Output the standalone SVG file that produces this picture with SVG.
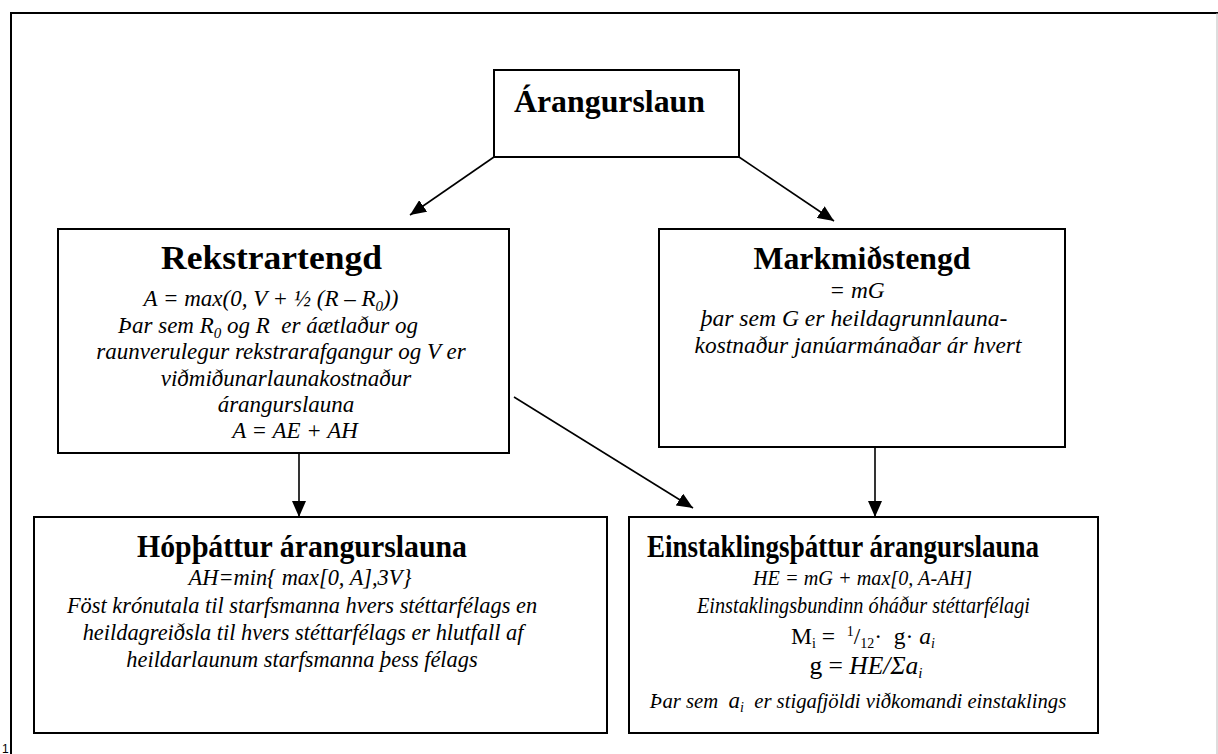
<svg xmlns="http://www.w3.org/2000/svg" width="1218" height="754" viewBox="0 0 1218 754">
<style>
.box{fill:#fff;stroke:#000;stroke-width:2}
.t{font-family:"Liberation Serif","Times New Roman",serif;font-weight:bold;text-anchor:middle;fill:#000}
.b{font-family:"Liberation Serif","Times New Roman",serif;font-style:italic;text-anchor:middle;fill:#000;white-space:pre}
.u{font-style:normal}
.con{stroke:#000;stroke-width:1.6;fill:none}
</style>
<defs>
<marker id="ah" markerUnits="userSpaceOnUse" markerWidth="18" markerHeight="14" refX="16" refY="7" orient="auto">
<path d="M0,0 L16,7 L0,14 z" fill="#000"/>
</marker>
</defs>
<rect width="1218" height="754" fill="#fff"/>
<g id="frame">
<path d="M11,754 V13 H1218" fill="none" stroke="#000" stroke-width="2"/>
<line x1="1217" y1="13" x2="1217" y2="754" stroke="#bbb" stroke-width="1"/>
<text x="2" y="753" font-family="Liberation Sans, Arial, sans-serif" font-size="12">1</text>
</g>
<g id="connectors">
<line class="con" x1="494" y1="157" x2="410" y2="215" marker-end="url(#ah)"/>
<line class="con" x1="739" y1="157" x2="834" y2="221" marker-end="url(#ah)"/>
<line class="con" x1="299" y1="453" x2="299" y2="517" marker-end="url(#ah)"/>
<line class="con" x1="875" y1="447" x2="875" y2="517" marker-end="url(#ah)"/>
<line class="con" x1="514" y1="397" x2="693" y2="508" marker-end="url(#ah)"/>
</g>
<g id="arangurslaun">
<rect class="box" x="494" y="70" width="245" height="87"/>
<text class="t" x="609.5" y="112" font-size="31" textLength="191" lengthAdjust="spacingAndGlyphs">Árangurslaun</text>
</g>
<g id="rekstrartengd">
<rect class="box" x="58" y="229" width="451" height="224"/>
<text class="t" x="271.5" y="269" font-size="34" textLength="221" lengthAdjust="spacingAndGlyphs">Rekstrartengd</text>
<text class="b" x="271" y="306" font-size="23">A = max(0, V + ½ (R – R<tspan font-size="15" dy="5">0</tspan><tspan dy="-5">))</tspan></text>
<text class="b" x="268" y="333" font-size="23">Þar sem R<tspan font-size="15" dy="5">0</tspan><tspan dy="-5"> og R  er áætlaður og</tspan></text>
<text class="b" x="281" y="359" font-size="23">raunverulegur rekstrarafgangur og V er</text>
<text class="b" x="286" y="386" font-size="23">viðmiðunarlaunakostnaður</text>
<text class="b" x="286" y="412" font-size="23">árangurslauna</text>
<text class="b" x="295" y="438" font-size="23">A = AE + AH</text>
</g>
<g id="markmidstengd">
<rect class="box" x="659" y="229" width="406" height="218"/>
<text class="t" x="862" y="269" font-size="32" textLength="217" lengthAdjust="spacingAndGlyphs">Markmiðstengd</text>
<text class="b" x="857" y="298" font-size="23.4">= mG</text>
<text class="b" x="854" y="326" font-size="23.6">þar sem G er heildagrunnlauna-</text>
<text class="b" x="858" y="353" font-size="23.4">kostnaður janúarmánaðar ár hvert</text>
</g>
<g id="hopthattur">
<rect class="box" x="34" y="517" width="573" height="216"/>
<text class="t" x="302" y="557" font-size="31" textLength="330" lengthAdjust="spacingAndGlyphs">Hópþáttur árangurslauna</text>
<text class="b" x="300" y="585" font-size="22.4">AH=min{ max[0, A],3V}</text>
<text class="b" x="302" y="613" font-size="22.4">Föst krónutala til starfsmanna hvers stéttarfélags en</text>
<text class="b" x="303" y="640" font-size="22.4">heildagreiðsla til hvers stéttarfélags er hlutfall af</text>
<text class="b" x="302" y="667" font-size="22.4">heildarlaunum starfsmanna þess félags</text>
</g>
<g id="einstaklingsthattur">
<rect class="box" x="629" y="517" width="469" height="216"/>
<text class="t" x="843" y="557" font-size="31" textLength="392" lengthAdjust="spacingAndGlyphs">Einstaklingsþáttur árangurslauna</text>
<text class="b" x="862.5" y="585" font-size="22" textLength="219" lengthAdjust="spacingAndGlyphs">HE = mG + max[0, A-AH]</text>
<text class="b" x="863.5" y="613" font-size="22.5" textLength="333" lengthAdjust="spacingAndGlyphs">Einstaklingsbundinn óháður stéttarfélagi</text>
<text class="b" x="863" y="644" font-size="23.5"><tspan class="u">M</tspan><tspan class="u" font-size="14" dy="4">i</tspan><tspan class="u" dy="-4"> =  </tspan><tspan class="u" font-size="14" dy="-8">1</tspan><tspan class="u" dy="8">/</tspan><tspan class="u" font-size="14" dy="4">12</tspan><tspan class="u" dy="-4">·  g· </tspan><tspan>a</tspan><tspan font-size="14" dy="4">i</tspan></text>
<text class="b" x="866" y="674" font-size="25.5"><tspan class="u">g = </tspan><tspan>HE/Σa</tspan><tspan font-size="15" dy="4">i</tspan></text>
<text class="b" x="858" y="708" font-size="20.7">Þar sem  <tspan font-size="23">a</tspan><tspan font-size="14" dy="4">i</tspan><tspan dy="-4">  er stigafjöldi viðkomandi einstaklings</tspan></text>
</g>
</svg>
